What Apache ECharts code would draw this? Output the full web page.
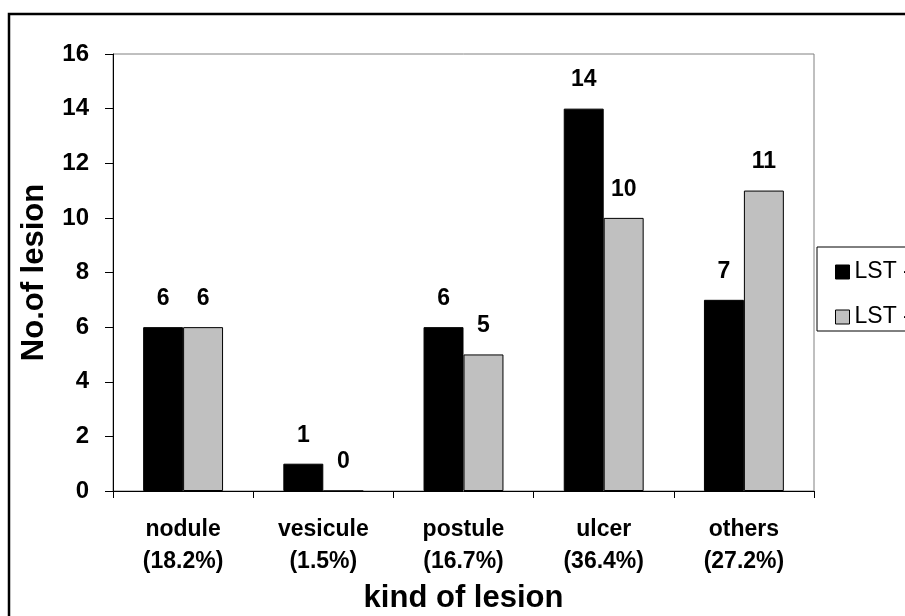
<!DOCTYPE html>
<html style="height: 100%">
<head>
  <meta charset="UTF-8" />
  <title>kind of lesion</title>
  <script src="https://cdn.jsdelivr.net/npm/echarts@6/dist/echarts.min.js"></script>
</head>
<body style="height: 100%; margin: 0; background: #fff">
  <div id="container" style="width: 905px; height: 616px"></div>
  <script>
    const categories = ['nodule\n(18.2%)', 'vesicule\n(1.5%)', 'postule\n(16.7%)', 'ulcer\n(36.4%)', 'others\n(27.2%)'];
    const seriesNames = ['LST - positive', 'LST - negative'];
    const lstA = [6, 1, 6, 14, 7];
    const lstB = [6, 0, 5, 10, 11];

    const font = '"Liberation Sans", Arial, sans-serif';
    const chart = echarts.init(document.getElementById('container'), null, { renderer: 'canvas' });

    const bar = (name, data, color) => ({
      name: name,
      type: 'bar',
      data: data,
      barGap: '0%',
      barCategoryGap: '43%',
      itemStyle: { color: color, borderColor: '#000', borderWidth: 1 },
      label: {
        show: true,
        position: 'top',
        distance: 17,
        color: '#000',
        fontFamily: font,
        fontWeight: 'bold',
        fontSize: 23
      }
    });

    chart.setOption({
      animation: false,
      backgroundColor: '#fff',
      textStyle: { fontFamily: font },
      grid: {
        left: 113, right: 91, top: 54, bottom: 125,
        outerBoundsMode: 'none',
        show: true, borderColor: '#808080', borderWidth: 1
      },
      legend: {
        orient: 'vertical',
        left: 830, top: 255,
        itemWidth: 14, itemHeight: 14,
        itemGap: 21,
        icon: 'rect',
        textStyle: { fontFamily: font, fontSize: 23, lineHeight: 24, color: '#000' },
        data: [
          { name: seriesNames[0], itemStyle: { borderColor: '#000', borderWidth: 1 } },
          { name: seriesNames[1], itemStyle: { borderColor: '#000', borderWidth: 1 } }
        ]
      },
      xAxis: {
        type: 'category',
        data: categories,
        name: 'kind of lesion',
        nameLocation: 'middle',
        nameGap: 88,
        nameTextStyle: { fontFamily: font, fontWeight: 'bold', fontSize: 31, color: '#000' },
        axisLine: { lineStyle: { color: '#000', width: 1 } },
        axisTick: { show: true, length: 7, lineStyle: { color: '#000' } },
        axisLabel: {
          margin: 23,
          color: '#000',
          fontFamily: font,
          fontWeight: 'bold',
          fontSize: 23,
          lineHeight: 32
        }
      },
      yAxis: {
        type: 'value',
        min: 0, max: 16, interval: 2,
        name: 'No.of lesion',
        nameLocation: 'middle',
        nameGap: 63,
        nameTextStyle: { fontFamily: font, fontWeight: 'bold', fontSize: 31, color: '#000' },
        splitLine: { show: false },
        axisLine: { show: true, lineStyle: { color: '#000', width: 1 } },
        axisTick: { show: true, length: 8, lineStyle: { color: '#000' } },
        axisLabel: {
          margin: 24,
          color: '#000',
          fontFamily: font,
          fontWeight: 'bold',
          fontSize: 24
        }
      },
      graphic: [
        {
          type: 'rect',
          shape: { x: 9, y: 14, width: 1000, height: 700 },
          style: { fill: 'none', stroke: '#000', lineWidth: 2.5 },
          silent: true
        },
        {
          type: 'rect',
          shape: { x: 817, y: 247, width: 200, height: 84 },
          style: { fill: 'none', stroke: '#000', lineWidth: 1 },
          silent: true
        }
      ],
      series: [
        bar(seriesNames[0], lstA, '#000000'),
        bar(seriesNames[1], lstB, '#c0c0c0')
      ]
    });
  </script>
</body>
</html>
